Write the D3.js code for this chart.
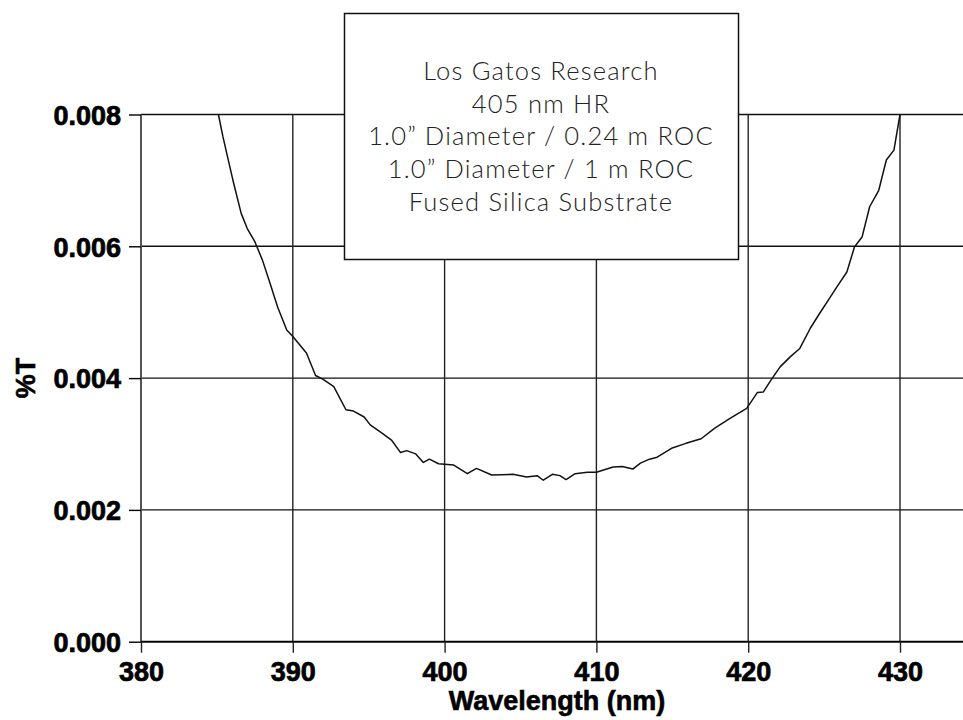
<!DOCTYPE html>
<html>
<head>
<meta charset="utf-8">
<script src="https://cdn.jsdelivr.net/npm/d3@7"></script>
<style>
  html, body { margin: 0; padding: 0; background: #fff; }
  svg { display: block; }
  .tick text { font-family: "Liberation Sans", Arial, sans-serif; font-weight: bold; fill: #000; stroke: #000; stroke-width: 0.7px; }
  .title { font-family: "Liberation Sans", Arial, sans-serif; font-weight: bold; fill: #000; stroke: #000; stroke-width: 0.6px; }
</style>
</head>
<body>
<svg id="chart" width="963" height="720"></svg>
<script>
// Wavelength (nm) and transmittance (%T) of the 405 nm HR coating
const wavelength = [
  385.1, 385.4, 385.9, 386.1, 386.6, 387.0, 387.5, 388.0, 388.5, 389.0,
  389.6, 390.0, 390.9, 391.5, 392.0, 392.7, 393.5, 394.0, 394.7, 395.1,
  395.9, 396.5, 397.1, 397.5, 398.1, 398.6, 399.0, 399.6, 400.6, 401.5,
  402.1, 403.1, 404.5, 405.4, 406.1, 406.5, 407.1, 407.6, 408.0, 408.6,
  409.4, 410.0, 411.1, 411.7, 412.4, 412.9, 413.5, 414.0, 415.0, 415.9,
  416.9, 417.8, 418.8, 419.9, 420.6, 421.0, 421.5, 422.1, 422.8, 423.4,
  424.1, 424.7, 425.3, 425.8, 426.5, 427.0, 427.5, 428.0, 428.6, 429.1,
  429.6, 430.0
];
const transmittance = [
  0.00800, 0.00766, 0.00716, 0.00696, 0.00650, 0.00627, 0.00607, 0.00579, 0.00544, 0.00508,
  0.00473, 0.00463, 0.00438, 0.00404, 0.00398, 0.00387, 0.00352, 0.00350, 0.00341, 0.00329,
  0.00316, 0.00306, 0.00287, 0.00290, 0.00285, 0.00272, 0.00277, 0.00270, 0.00268, 0.00255,
  0.00263, 0.00253, 0.00254, 0.00250, 0.00252, 0.00245, 0.00254, 0.00252, 0.00246, 0.00255,
  0.00257, 0.00257, 0.00265, 0.00266, 0.00262, 0.00271, 0.00277, 0.00280, 0.00294, 0.00301,
  0.00308, 0.00324, 0.00339, 0.00354, 0.00378, 0.00379, 0.00397, 0.00417, 0.00433, 0.00445,
  0.00476, 0.00498, 0.00519, 0.00537, 0.00561, 0.00599, 0.00614, 0.00660, 0.00685, 0.00731,
  0.00746, 0.00800
];
const xTicks = [380, 390, 400, 410, 420, 430];
const yTicks = [0, 0.002, 0.004, 0.006, 0.008];
const legendLines = [
  "Los Gatos Research",
  "405 nm HR",
  "1.0\u201D Diameter / 0.24 m ROC",
  "1.0\u201D Diameter / 1 m ROC",
  "Fused Silica Substrate"
];

const svg = d3.select("#chart");
const x = d3.scaleLinear().domain([380, 430]).range([141, 900]);
const y = d3.scaleLinear().domain([0, 0.008]).range([641.7, 114.5]);
const xEnd = 963;

// horizontal grid lines (including the top edge at 0.008)
svg.append("g").selectAll("line")
  .data(yTicks.filter(d => d > 0))
  .join("line")
  .attr("x1", x(380)).attr("x2", xEnd)
  .attr("y1", d => y(d)).attr("y2", d => y(d))
  .attr("stroke", "#111").attr("stroke-width", 1.4);

// vertical grid lines
svg.append("g").selectAll("line")
  .data(xTicks.filter(d => d > 380))
  .join("line")
  .attr("x1", d => x(d)).attr("x2", d => x(d))
  .attr("y1", y(0.008)).attr("y2", y(0))
  .attr("stroke", "#222").attr("stroke-width", 1.4);

// left axis line
svg.append("line")
  .attr("x1", x(380)).attr("x2", x(380))
  .attr("y1", y(0.008)).attr("y2", y(0))
  .attr("stroke", "#555").attr("stroke-width", 2);

// bottom axis line
svg.append("line")
  .attr("x1", x(380)).attr("x2", xEnd)
  .attr("y1", y(0)).attr("y2", y(0))
  .attr("stroke", "#000").attr("stroke-width", 2);

// y axis ticks and labels
const yAxis = svg.append("g")
  .attr("transform", `translate(${x(380)},0)`)
  .call(d3.axisLeft(y).tickValues(yTicks).tickFormat(d3.format(".3f"))
    .tickSize(12).tickPadding(8));
yAxis.select(".domain").remove();
yAxis.selectAll(".tick line").attr("stroke", "#000").attr("stroke-width", 1.4);
yAxis.selectAll(".tick text").attr("font-size", 27).attr("dy", "0.36em");

// x axis ticks and labels
const xAxis = svg.append("g")
  .attr("transform", `translate(0,${y(0)})`)
  .call(d3.axisBottom(x).tickValues(xTicks).tickFormat(d3.format("d"))
    .tickSize(11).tickPadding(9));
xAxis.select(".domain").remove();
xAxis.selectAll(".tick line").attr("stroke", "#222").attr("stroke-width", 1.4);
xAxis.selectAll(".tick text").attr("font-size", 27);

// axis titles
svg.append("text")
  .attr("class", "title")
  .attr("x", 557).attr("y", 710)
  .attr("text-anchor", "middle")
  .attr("font-size", 27)
  .text("Wavelength (nm)");

svg.append("text")
  .attr("class", "title")
  .attr("transform", "translate(35,378) rotate(-90)")
  .attr("text-anchor", "middle")
  .attr("font-size", 27)
  .text("%T");

// transmission curve
const line = d3.line()
  .x((d, i) => x(wavelength[i]))
  .y(d => y(d));
svg.append("path")
  .attr("d", line(transmittance))
  .attr("fill", "none")
  .attr("stroke", "#111")
  .attr("stroke-width", 1.5)
  .attr("stroke-linejoin", "round");

// annotation box
const box = svg.append("g");
box.append("rect")
  .attr("x", 344.5).attr("y", 13.5)
  .attr("width", 394).attr("height", 246)
  .attr("fill", "#fff").attr("stroke", "#111").attr("stroke-width", 1.5);
box.selectAll("text")
  .data(legendLines)
  .join("text")
  .attr("x", 541)
  .attr("y", (d, i) => 80 + i * 32.7)
  .attr("text-anchor", "middle")
  .attr("font-family", "Lato, 'Open Sans', sans-serif")
  .attr("font-weight", 300)
  .attr("font-size", 25.5)
  .attr("letter-spacing", 1.2)
  .attr("fill", "#222")
  .text(d => d);
</script>
</body>
</html>
